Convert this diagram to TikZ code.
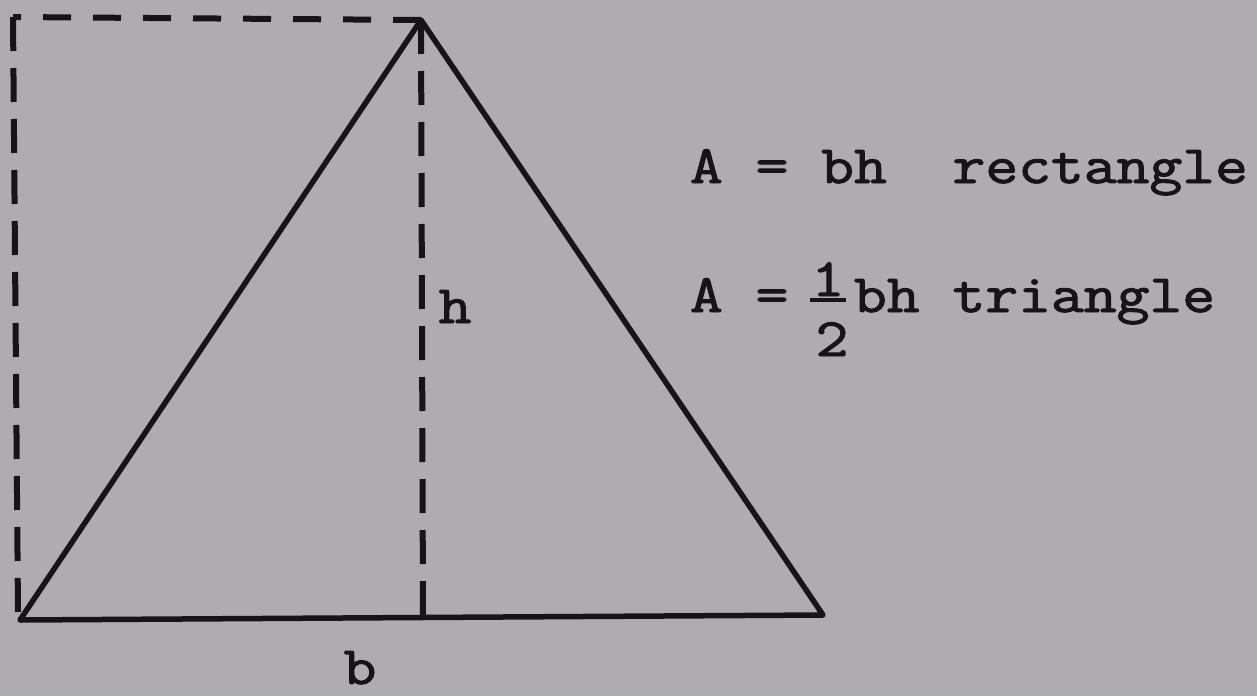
\documentclass[tikz,border=0pt]{standalone}
\usepackage{fontspec}
\usepackage{graphicx}
\newfontfamily\twfont{Latin Modern Mono}[FakeBold=1.8]
\definecolor{paper}{RGB}{174,172,176}
\definecolor{ink}{RGB}{22,20,24}
\newcommand\tw[1]{\scalebox{1.18}[1]{\fontsize{54}{60}\selectfont\twfont #1}}
\tikzset{
  solidline/.style={line width=5.5pt, ink, line join=round, line cap=round},
  dashv/.style={line width=6pt, ink, dash pattern=on 34pt off 17pt},
  dashh/.style={line width=6pt, ink, dash pattern=on 28pt off 22pt},
  txt/.style={inner sep=0pt, outer sep=0pt, text=ink},
}
\begin{document}
\begin{tikzpicture}[x=1pt,y=-1pt]
  \fill[paper] (0,0) rectangle (1257,696);
  \useasboundingbox (0,0) rectangle (1257,696);
  % vertices
  \coordinate (L) at (20,620);
  \coordinate (R) at (823,615);
  \coordinate (T) at (421,20);
  \coordinate (F) at (423,617.5);
  \coordinate (TL) at (13,17);
  \coordinate (BL) at (18,612);
  % dashed rectangle half and altitude
  \draw[dashh] (T) -- (TL);
  \draw[dashv] (TL) -- (BL);
  \draw[dashv] (T) -- (F);
  % triangle
  \draw[solidline] (L) -- (T) -- (R) -- cycle;
  % labels
  \node[txt, anchor=base] (h) at (455,323) {\tw{h}};
  \node[txt, anchor=base] (b) at (360,684) {\tw{b}};
  \node[txt, anchor=base west] (l1) at (690,183) {\tw{A = bh\ \ rectangle}};
  \node[txt, anchor=base west] (l2) at (690,312) {\tw{A =~~bh triangle}};
  \node[txt, anchor=base] (one) at (828,296) {\tw{1}};
  \draw[ink, line width=4.5pt] (810,300) -- (846,300);
  \node[txt, anchor=base] (two) at (832,356) {\tw{2}};
\end{tikzpicture}
\end{document}
